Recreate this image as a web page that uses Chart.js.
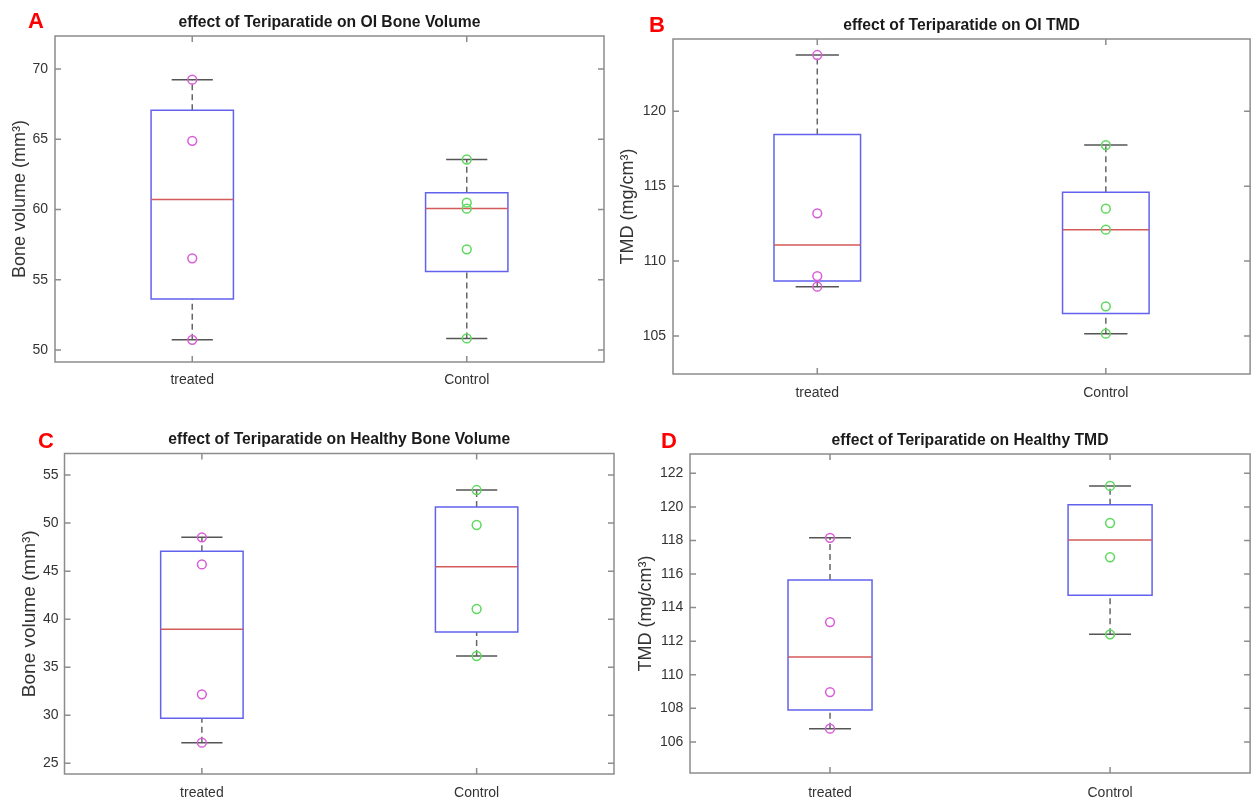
<!DOCTYPE html>
<html><head><meta charset="utf-8">
<script src="https://cdn.jsdelivr.net/npm/chart.js@4.4.0/dist/chart.umd.min.js"></script>
<style>
html,body{margin:0;padding:0;background:#fff;}
body{width:1256px;height:801px;position:relative;overflow:hidden;}
canvas{position:absolute;}
.lbl{position:absolute;font:bold 22px 'Liberation Sans',Arial,sans-serif;color:#f00;line-height:22px;transform:translate(-50%,-50%);}
</style></head><body>
<canvas id="cA" width="628" height="405" style="left:0;top:0"></canvas>
<canvas id="cB" width="646" height="405" style="left:610px;top:0"></canvas>
<canvas id="cC" width="628" height="396" style="left:0;top:405px"></canvas>
<canvas id="cD" width="646" height="396" style="left:610px;top:405px"></canvas>
<div class="lbl" style="left:36px;top:21px">A</div>
<div class="lbl" style="left:657px;top:25px">B</div>
<div class="lbl" style="left:46px;top:441px">C</div>
<div class="lbl" style="left:669px;top:441px">D</div>
<script>
const categories = ['treated', 'Control'];

// Panel A: OI Bone Volume
const aTitle = 'effect of Teriparatide on OI Bone Volume';
const aYLabel = 'Bone volume (mm\u00B3)';
const aTreatedPoints = [69.24, 64.89, 56.53, 50.73];
const aControlPoints = [63.56, 60.49, 60.06, 57.17, 50.83];
const aQ1 = [53.63, 55.59];
const aMedian = [60.72, 60.08];
const aQ3 = [67.07, 61.20];
const aLow = [50.73, 50.83];
const aHigh = [69.24, 63.56];
const aTicks = [50, 55, 60, 65, 70];
const aRange = [49.15, 72.35];

// Panel B: OI TMD
const bTitle = 'effect of Teriparatide on OI TMD';
const bYLabel = 'TMD (mg/cm\u00B3)';
const bTreatedPoints = [123.76, 113.19, 109.00, 108.29];
const bControlPoints = [117.75, 113.50, 112.10, 106.98, 105.15];
const bQ1 = [108.67, 106.50];
const bMedian = [111.07, 112.10];
const bQ3 = [118.46, 114.59];
const bLow = [108.29, 105.15];
const bHigh = [123.76, 117.75];
const bTicks = [105, 110, 115, 120];
const bRange = [102.46, 124.83];

// Panel C: Healthy Bone Volume
const cTitle = 'effect of Teriparatide on Healthy Bone Volume';
const cYLabel = 'Bone volume (mm\u00B3)';
const cTreatedPoints = [48.52, 45.70, 32.18, 27.15];
const cControlPoints = [53.44, 49.80, 41.06, 36.17];
const cQ1 = [29.68, 38.66];
const cMedian = [38.96, 45.46];
const cQ3 = [47.08, 51.67];
const cLow = [27.15, 36.17];
const cHigh = [48.52, 53.44];
const cTicks = [25, 30, 35, 40, 45, 50, 55];
const cRange = [23.89, 57.24];

// Panel D: Healthy TMD
const dTitle = 'effect of Teriparatide on Healthy TMD';
const dYLabel = 'TMD (mg/cm\u00B3)';
const dTreatedPoints = [118.16, 113.14, 108.97, 106.79];
const dControlPoints = [121.25, 119.04, 117.00, 112.41];
const dQ1 = [107.90, 114.73];
const dMedian = [111.06, 118.03];
const dQ3 = [115.64, 120.13];
const dLow = [106.79, 112.41];
const dHigh = [118.16, 121.25];
const dTicks = [106, 108, 110, 112, 114, 116, 118, 120, 122];
const dRange = [104.15, 123.15];

const FONT = "'Liberation Sans', Arial, Helvetica, sans-serif";
Chart.defaults.font.family = FONT;
const BW = 0.15, CW = 0.075;
const GREY = '#8c8c8c';

const framePlugin = {
  id: 'frame',
  afterDraw(chart) {
    const ctx = chart.ctx, a = chart.chartArea;
    const xs = chart.scales.x, ys = chart.scales.y;
    ctx.save();
    ctx.strokeStyle = GREY; ctx.lineWidth = 1.5;
    ctx.strokeRect(a.left, a.top, a.right - a.left, a.bottom - a.top);
    ctx.beginPath();
    ys.ticks.forEach(t => {
      const y = ys.getPixelForValue(t.value);
      ctx.moveTo(a.left, y); ctx.lineTo(a.left + 6, y);
      ctx.moveTo(a.right, y); ctx.lineTo(a.right - 6, y);
    });
    xs.ticks.forEach(t => {
      const x = xs.getPixelForValue(t.value);
      ctx.moveTo(x, a.top); ctx.lineTo(x, a.top + 6);
      ctx.moveTo(x, a.bottom); ctx.lineTo(x, a.bottom - 6);
    });
    ctx.stroke();
    ctx.restore();
  }
};

function makeChart(id, d, L) {
  const gap = g => ({x: g, y: null});
  const box = [], med = [], whisk = [], caps = [];
  for (let i = 0; i < 2; i++) {
    const g = i + 1;
    box.push({x: g - BW, y: d.q1[i]}, {x: g + BW, y: d.q1[i]}, {x: g + BW, y: d.q3[i]},
             {x: g - BW, y: d.q3[i]}, {x: g - BW, y: d.q1[i]}, {x: g + BW, y: d.q1[i]}, gap(g));
    med.push({x: g - BW, y: d.med[i]}, {x: g + BW, y: d.med[i]}, gap(g));
    whisk.push({x: g, y: d.q3[i]}, {x: g, y: d.hi[i]}, gap(g), {x: g, y: d.lo[i]}, {x: g, y: d.q1[i]}, gap(g));
    caps.push({x: g - CW, y: d.hi[i]}, {x: g + CW, y: d.hi[i]}, gap(g), {x: g - CW, y: d.lo[i]}, {x: g + CW, y: d.lo[i]}, gap(g));
  }
  const line = (data, color, extra) => Object.assign({data, showLine: true, pointRadius: 0, borderColor: color, borderWidth: 1.5, fill: false, spanGaps: false, borderJoinStyle: 'miter'}, extra || {});
  const datasets = [
    {data: d.tp.map(v => ({x: 1, y: v})), showLine: false, pointRadius: 4.4, pointBorderWidth: 1.5, pointBorderColor: '#d95cd9', pointBackgroundColor: 'rgba(0,0,0,0)'},
    {data: d.cp.map(v => ({x: 2, y: v})), showLine: false, pointRadius: 4.4, pointBorderWidth: 1.5, pointBorderColor: '#5cd95c', pointBackgroundColor: 'rgba(0,0,0,0)'},
    line(med, '#d45a5a'),
    line(box, '#6262ee'),
    line(caps, '#555555'),
    line(whisk, '#666666', {borderDash: [6, 4]})
  ];
  return new Chart(document.getElementById(id), {
    type: 'scatter',
    data: {datasets},
    plugins: [framePlugin],
    options: {
      responsive: false, animation: false, events: [], devicePixelRatio: 1,
      layout: {padding: {left: 0, right: L.padRight, top: 0, bottom: 0}},
      plugins: {
        legend: {display: false}, tooltip: {enabled: false},
        title: {display: true, text: d.title, fullSize: false, color: '#1a1a1a',
          font: {size: 15.7, weight: 'bold', family: FONT, lineHeight: 1.2},
          padding: {top: L.tTop, bottom: L.tBottom}}
      },
      scales: {
        x: {type: 'linear', min: 0.5, max: 2.5, grid: {display: false, drawTicks: false}, border: {display: false},
          afterBuildTicks: s => { s.ticks = categories.map((c, i) => ({value: i + 1})); },
          ticks: {callback: v => categories[Math.round(v) - 1], font: {size: 14, family: FONT}, color: '#333', padding: L.xPad, maxRotation: 0, autoSkip: false},
          afterFit: s => { s.height = L.xH; }},
        y: {type: 'linear', min: d.range[0], max: d.range[1], grid: {display: false, drawTicks: false}, border: {display: false},
          afterBuildTicks: s => { s.ticks = d.ticks.map(v => ({value: v})); },
          ticks: {font: {size: 14, family: FONT}, color: '#333', padding: L.yPad, autoSkip: false},
          title: {display: true, text: d.ylabel, color: '#333', font: {size: L.ylSize, family: FONT, lineHeight: 1.2}, padding: {top: L.ylPad, bottom: 0}},
          afterFit: s => { s.width = L.yW; }}
      }
    }
  });
}

makeChart('cA', {title: aTitle, ylabel: aYLabel, tp: aTreatedPoints, cp: aControlPoints, q1: aQ1, med: aMedian, q3: aQ3, lo: aLow, hi: aHigh, ticks: aTicks, range: aRange},
  {padRight: 24, yW: 55, xH: 43, tTop: 13.08, tBottom: 4.08, xPad: 9.6, yPad: 7, ylSize: 18, ylPad: 9});
makeChart('cB', {title: bTitle, ylabel: bYLabel, tp: bTreatedPoints, cp: bControlPoints, q1: bQ1, med: bMedian, q3: bQ3, lo: bLow, hi: bHigh, ticks: bTicks, range: bRange},
  {padRight: 5, yW: 63, xH: 31, tTop: 16.58, tBottom: 3.58, xPad: 11.1, yPad: 7, ylSize: 18, ylPad: 7.2});
makeChart('cC', {title: cTitle, ylabel: cYLabel, tp: cTreatedPoints, cp: cControlPoints, q1: cQ1, med: cMedian, q3: cQ3, lo: cLow, hi: cHigh, ticks: cTicks, range: cRange},
  {padRight: 14, yW: 64.5, xH: 27, tTop: 25.58, tBottom: 4.08, xPad: 11.1, yPad: 6, ylSize: 19, ylPad: 18.3});
makeChart('cD', {title: dTitle, ylabel: dYLabel, tp: dTreatedPoints, cp: dControlPoints, q1: dQ1, med: dMedian, q3: dQ3, lo: dLow, hi: dHigh, ticks: dTicks, range: dRange},
  {padRight: 2, yW: 80, xH: 28, tTop: 26.08, tBottom: 4.08, xPad: 12.1, yPad: 6.7, ylSize: 18, ylPad: 25.2});
</script>
</body></html>
